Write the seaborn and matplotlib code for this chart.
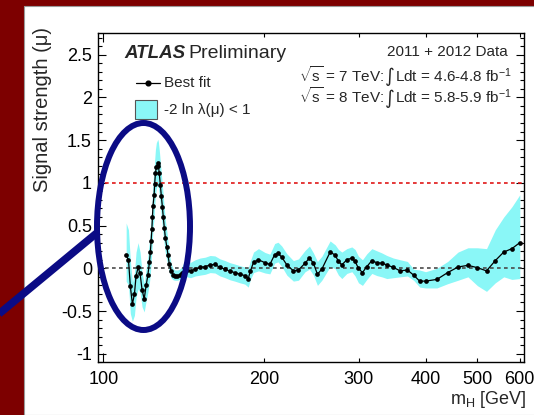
import numpy as np
import pandas as pd
import matplotlib
matplotlib.use("Agg")
import matplotlib.pyplot as plt
import seaborn as sns
from matplotlib.patches import Ellipse, Rectangle
from matplotlib.lines import Line2D
from matplotlib.ticker import FixedLocator, FixedFormatter, MultipleLocator

# Higgs boson mass hypothesis [GeV]
mass = [110.3, 111.4, 112.3, 113.3, 114.3, 115.1, 116.1, 117.1, 118.1, 119.2,
        120.2, 121.1, 121.9, 122.4, 122.8, 123.2, 123.5, 123.8, 124.4, 124.7,
        125.1, 125.6, 126.4, 126.7, 127.2, 127.8, 128.3, 128.9, 129.4, 130.0,
        130.6, 131.4, 132.1, 132.8, 133.8, 135.0, 136.1, 137.5, 138.9, 140.5,
        141.9, 143.2, 145.5, 148.5, 151.6, 155.0, 158.3, 161.6, 165.2, 168.8,
        172.5, 176.0, 180.0, 183.8, 186.5, 188.3, 190.8, 194.9, 200.5, 204.7,
        209.0, 212.0, 215.5, 220.2, 226.5, 231.5, 238.2, 242.7, 246.9, 251.2,
        256.0, 265.3, 271.1, 275.0, 279.0, 285.1, 291.3, 295.4, 299.7, 304.9,
        310.7, 317.5, 324.3, 331.4, 338.6, 348.3, 358.6, 370, 380, 390,
        400, 420, 440, 460, 480, 500, 520, 540, 560, 580, 600]

# best-fit signal strength
mu = [0.15, 0.10, -0.21, -0.42, -0.30, -0.09, 0.01, -0.06, -0.25, -0.36,
      -0.20, -0.08, 0.07, 0.19, 0.32, 0.46, 0.60, 0.73, 0.86, 0.99,
      1.11, 1.19, 1.23, 1.20, 1.11, 0.97, 0.85, 0.72, 0.60, 0.47,
      0.35, 0.25, 0.15, 0.05, -0.03, -0.075, -0.09, -0.09, -0.08, -0.05,
      -0.005, -0.02, -0.03, -0.01, 0.01, 0.02, 0.04, 0.045, 0.01, -0.01,
      -0.035, -0.05, -0.07, -0.085, -0.12, -0.03, 0.07, 0.10, 0.065, 0.045,
      0.16, 0.175, 0.13, 0.04, -0.03, -0.02, 0.06, 0.12, 0.06, -0.07,
      -0.01, 0.19, 0.155, 0.08, 0.04, 0.10, 0.12, 0.08, 0.00, -0.05,
      0.02, 0.09, 0.065, 0.06, 0.04, 0.01, -0.03, -0.02, -0.08, -0.15,
      -0.15, -0.13, -0.05, 0.015, 0.035, 0.007, -0.03, 0.09, 0.19, 0.23, 0.30]

# -2 ln lambda < 1 interval: distance below / above the best fit
err_dn = [0.30, 0.30, 0.32, 0.20, 0.25, 0.25, 0.25, 0.22, 0.20, 0.15,
          0.18, 0.20, 0.24, 0.25, 0.26, 0.26, 0.26, 0.26, 0.26, 0.26,
          0.26, 0.25, 0.25, 0.25, 0.25, 0.25, 0.24, 0.23, 0.22, 0.20,
          0.18, 0.16, 0.13, 0.10, 0.08, 0.06, 0.05, 0.05, 0.05, 0.06,
          0.07, 0.08, 0.08, 0.08, 0.09, 0.09, 0.09, 0.10, 0.10, 0.10,
          0.10, 0.10, 0.10, 0.10, 0.10, 0.10, 0.12, 0.13, 0.12, 0.11,
          0.10, 0.10, 0.11, 0.12, 0.12, 0.12, 0.10, 0.13, 0.14, 0.13,
          0.13, 0.17, 0.16, 0.16, 0.16, 0.16, 0.16, 0.17, 0.17, 0.15,
          0.15, 0.15, 0.15, 0.16, 0.16, 0.12, 0.07, 0.07, 0.06, 0.07,
          0.08, 0.10, 0.13, 0.155, 0.135, 0.21, 0.24, 0.26, 0.29, 0.36, 0.42]
err_up = [0.38, 0.35, 0.30, 0.25, 0.25, 0.28, 0.29, 0.25, 0.20, 0.18,
          0.20, 0.22, 0.25, 0.26, 0.27, 0.27, 0.28, 0.28, 0.28, 0.28,
          0.28, 0.28, 0.28, 0.28, 0.27, 0.27, 0.26, 0.25, 0.24, 0.22,
          0.20, 0.18, 0.15, 0.12, 0.09, 0.07, 0.07, 0.07, 0.07, 0.08,
          0.10, 0.11, 0.10, 0.11, 0.11, 0.11, 0.11, 0.10, 0.10, 0.10,
          0.10, 0.10, 0.10, 0.10, 0.12, 0.12, 0.12, 0.13, 0.12, 0.12,
          0.13, 0.13, 0.13, 0.13, 0.12, 0.13, 0.15, 0.14, 0.12, 0.15,
          0.15, 0.13, 0.12, 0.14, 0.15, 0.13, 0.13, 0.14, 0.14, 0.15,
          0.15, 0.14, 0.14, 0.12, 0.11, 0.11, 0.13, 0.10, 0.07, 0.13,
          0.11, 0.13, 0.13, 0.175, 0.205, 0.233, 0.26, 0.36, 0.41, 0.49, 0.56]

x_tick_main = [100]
x_tick_other = [200, 300, 400, 500, 600]
y_ticks = [-1, -0.5, 0, 0.5, 1, 1.5, 2, 2.5]
y_tick_labels = ["-1", "-0.5", "0", "0.5", "1", "1.5", "2", "2.5"]

sns.set_style("ticks")
plt.rcParams["font.family"] = ["Liberation Sans", "DejaVu Sans"]
plt.rcParams["mathtext.fontset"] = "custom"
plt.rcParams["mathtext.rm"] = "Liberation Sans"
plt.rcParams["mathtext.it"] = "Liberation Sans:italic"
plt.rcParams["mathtext.bf"] = "Liberation Sans:bold"
plt.rcParams["axes.unicode_minus"] = False

W, H = 534, 415
fig = plt.figure(figsize=(W / 100, H / 100), dpi=100, facecolor="#7d0000")
renderer = fig.canvas.get_renderer()


def fx(px):
    return px / W


def fy(py):
    return 1 - py / H


# white slide panel
fig.patches.append(Rectangle((fx(24), 0), 1.0, fy(6), transform=fig.transFigure,
                             facecolor="white", edgecolor="#9a9a9a", lw=0.8, zorder=-1))

ax_l, ax_r, ax_t, ax_b = 97.5, 524.0, 33.3, 362.3
ax = fig.add_axes([fx(ax_l), fy(ax_b), fx(ax_r) - fx(ax_l), (ax_b - ax_t) / H])
ax.set_facecolor("white")
ax.set_xscale("log")

df = pd.DataFrame({"mass": mass, "mu": mu,
                   "lo": np.array(mu) - np.array(err_dn),
                   "hi": np.array(mu) + np.array(err_up)})

band_color = "#8af7f7"
ax.fill_between(df["mass"], df["lo"], df["hi"], color=band_color, lw=0, zorder=1)
ax.axhline(1, color="#e01818", lw=1.2, ls=(0, (2.2, 2.0)), zorder=2)
ax.axhline(0, color="#4a4a4a", lw=1.2, ls=(0, (2.2, 2.0)), zorder=2)
sns.lineplot(data=df, x="mass", y="mu", ax=ax, color="black", lw=0.9,
             marker="o", markersize=3.4, markeredgewidth=0, estimator=None,
             zorder=3)

ax.set_xlim(97.5, 611)
ax.set_ylim(-1.1, 2.75)
ax.set_xlabel("")
ax.set_ylabel("")

ax.xaxis.set_major_locator(FixedLocator(x_tick_main))
ax.xaxis.set_major_formatter(FixedFormatter([str(v) for v in x_tick_main]))
ax.xaxis.set_minor_locator(FixedLocator(x_tick_other))
ax.xaxis.set_minor_formatter(FixedFormatter([str(v) for v in x_tick_other]))
ax.set_yticks(y_ticks)
ax.set_yticklabels(y_tick_labels)
ax.yaxis.set_minor_locator(MultipleLocator(0.1))

ax.tick_params(which="both", direction="in", top=True, right=True,
               labelsize=13, width=0.8, color="black", labelcolor="black")
ax.tick_params(axis="x", which="major", length=6.5, pad=6)
ax.tick_params(axis="x", which="minor", length=3.2, pad=6)
ax.tick_params(axis="y", which="major", length=6.0, pad=4)
ax.tick_params(axis="y", which="minor", length=3.0)
for s in ax.spines.values():
    s.set_color("black")
    s.set_linewidth(1.0)

# axis titles
fig.text(fx(527), fy(399), r"m$_{\mathrm{H}}$ [GeV]", ha="right", va="center",
         fontsize=13)
fig.text(fx(43), fy(27), "Signal strength (μ)", rotation=90, ha="center",
         va="top", fontsize=14.5)

# experiment label and data description
fig.text(fx(124.3), fy(58.5), "ATLAS", fontsize=13.5, fontweight="bold",
         fontstyle="italic", va="baseline")
fig.text(fx(188), fy(58.5), "Preliminary", fontsize=14, va="baseline")
fig.text(fx(508), fy(56.5), "2011 + 2012 Data", fontsize=11, ha="right",
         va="baseline")


def lumi_line(base, energy, lumi, right_px=512):
    # three pieces laid out left to right, then shifted to end at right_px
    t1 = fig.text(0, fy(base), r"$\sqrt{\mathrm{s}}$ = " + energy + " TeV:",
                  fontsize=11, ha="left", va="baseline")
    x1 = t1.get_window_extent(renderer).x1
    t2 = fig.text((x1 + 1) / W, fy(base - 5), "∫", fontsize=13.5, ha="left",
                  va="center", family=["DejaVu Sans"])
    x2 = t2.get_window_extent(renderer).x1
    t3 = fig.text((x2 + 0.5) / W, fy(base), "Ldt = " + lumi + r" fb$^{\mathrm{-1}}$",
                  fontsize=11, ha="left", va="baseline")
    x3 = t3.get_window_extent(renderer).x1
    shift = (right_px - x3) / W
    for t in (t1, t2, t3):
        x, y = t.get_position()
        t.set_position((x + shift, y))


lumi_line(82, "7", "4.6-4.8")
lumi_line(103, "8", "5.8-5.9")

# legend
fig.lines.append(Line2D([fx(136), fx(160)], [fy(83.4), fy(83.4)],
                        transform=fig.transFigure, color="black", lw=0.9))
fig.lines.append(Line2D([fx(148)], [fy(83.4)], transform=fig.transFigure,
                        color="black", marker="o", markersize=3.4, lw=0))
fig.text(fx(164), fy(83.4), "Best fit", fontsize=11, va="center")
fig.patches.append(Rectangle((fx(134.5), fy(119.2)), fx(157.4) - fx(134.5),
                             (119.2 - 99.5) / H, transform=fig.transFigure,
                             facecolor=band_color, edgecolor="#555555", lw=0.8,
                             zorder=3))
fig.text(fx(164), fy(109.7), "-2 ln λ(μ) < 1", fontsize=11, va="center")

# highlight of the low-mass excess
navy = "#0b0b85"
fig.patches.append(Ellipse((fx(143.5), fy(226.5)), fx(93), 207 / H,
                           transform=fig.transFigure, fill=False,
                           edgecolor=navy, lw=4.3, zorder=10))
fig.lines.append(Line2D([fx(-3), fx(98)], [fy(315.5), fy(232)],
                        transform=fig.transFigure, color=navy, lw=5.5,
                        solid_capstyle="butt", zorder=10))

fig.savefig("out.png", dpi=100, facecolor=fig.get_facecolor())
